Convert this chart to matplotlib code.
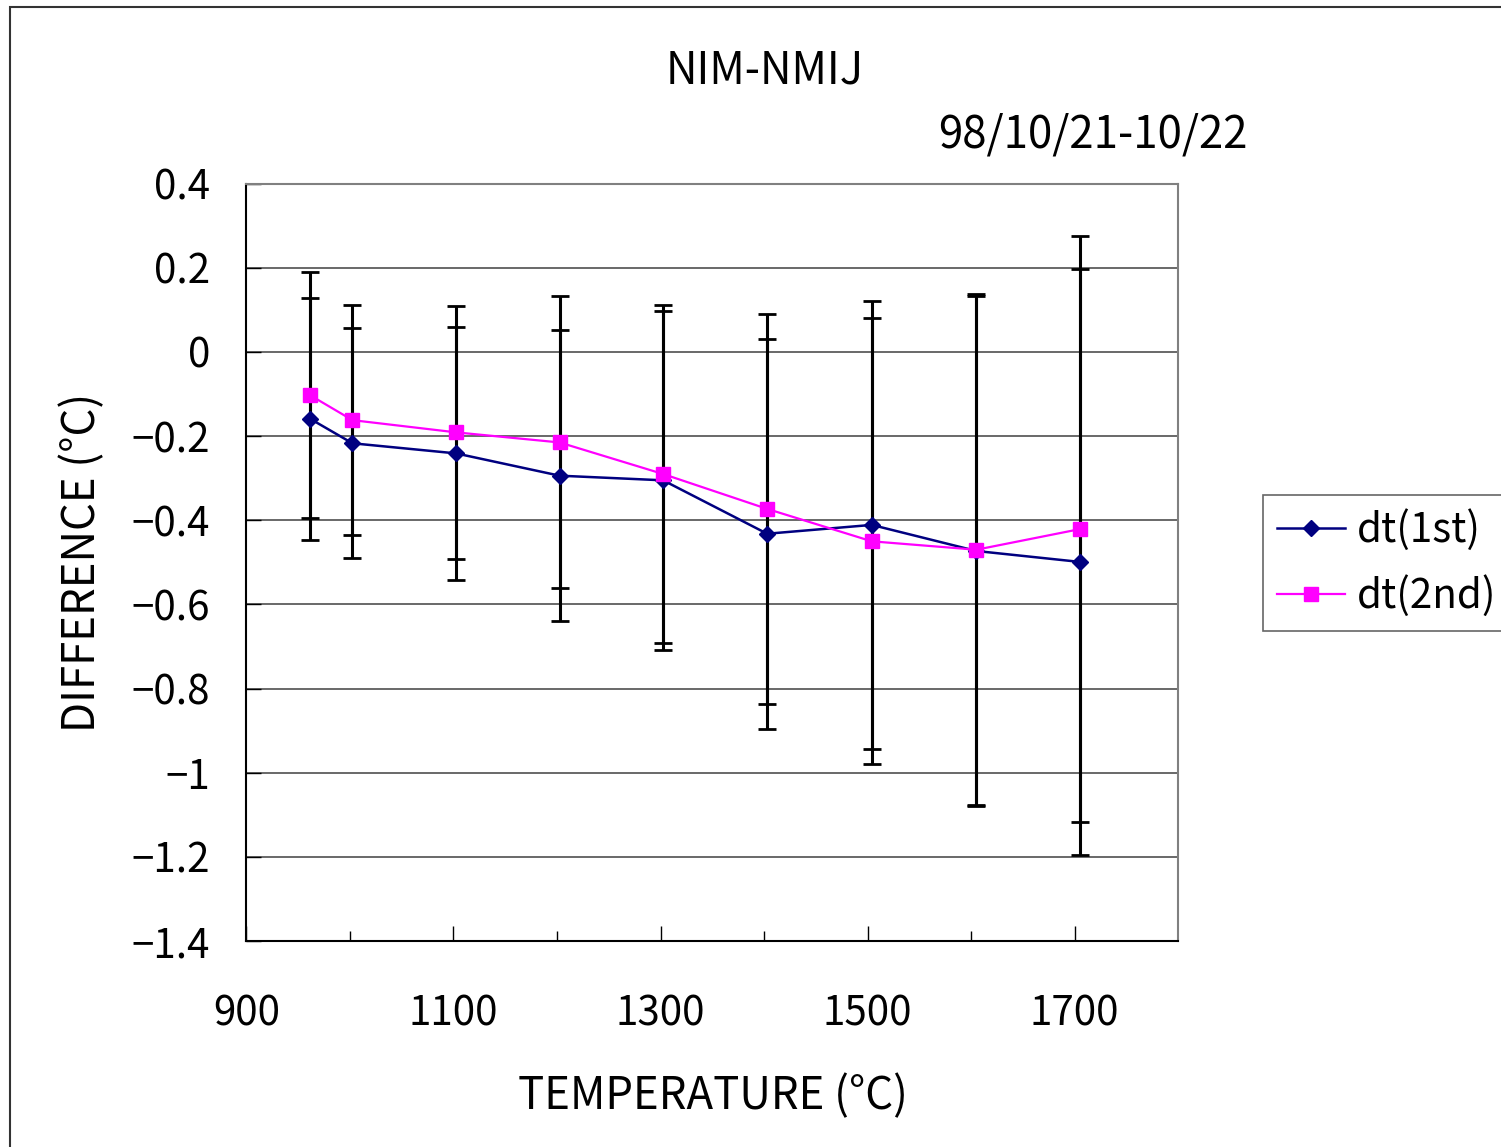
import matplotlib
matplotlib.use("Agg")
import matplotlib.pyplot as plt
from matplotlib.patches import Rectangle
from matplotlib.ticker import FixedLocator, FuncFormatter
import numpy as np

plt.rcParams['font.family'] = ['Noto Sans CJK JP', 'DejaVu Sans']

# temperatures of the comparison points (deg C)
temps = [961.78, 1002.5, 1102.5, 1202.5, 1302.5, 1403, 1504, 1605, 1705]

# difference NIM-NMIJ, first and second run
dt_1st = [-0.159, -0.217, -0.241, -0.294, -0.305, -0.432, -0.411, -0.473, -0.499]
dt_2nd = [-0.103, -0.162, -0.191, -0.215, -0.290, -0.373, -0.450, -0.470, -0.421]

# expanded uncertainties
err_1st = [0.288, 0.273, 0.300, 0.346, 0.403, 0.464, 0.532, 0.607, 0.696]
err_2nd = [0.292, 0.273, 0.300, 0.347, 0.402, 0.464, 0.530, 0.607, 0.696]

xticks_major = [900, 1100, 1300, 1500, 1700]
xticks_minor = [1000, 1200, 1400, 1600]
yticks = [0.4, 0.2, 0, -0.2, -0.4, -0.6, -0.8, -1.0, -1.2, -1.4]

W, H = 1501, 1147
FS = 29      # tick labels / legend
FS_T = 31.5  # title and axis titles


def fx(px):
    return px / W


def fy(py):
    return 1 - py / H


fig = plt.figure(figsize=(W / 100, H / 100), dpi=100)

# outer chart frame
fig.patches.append(Rectangle((fx(10), fy(1200)), fx(1600), fy(7) - fy(1200),
                             transform=fig.transFigure, fill=False,
                             edgecolor='#333333', linewidth=1.5))

ax = fig.add_axes([fx(246.3), fy(941), fx(1178.3) - fx(246.3), fy(183.7) - fy(941)])

for yv in yticks[1:-1]:
    ax.axhline(yv, color='#404040', linewidth=1.1, zorder=1)

ax.errorbar(temps, dt_1st, yerr=err_1st, fmt='none', ecolor='black',
            elinewidth=2.2, capsize=6.8, capthick=2.0, zorder=2)
ax.errorbar(temps, dt_2nd, yerr=err_2nd, fmt='none', ecolor='black',
            elinewidth=2.2, capsize=6.8, capthick=2.0, zorder=2)

ax.plot(temps, dt_1st, color='#000080', linewidth=1.8, marker='D',
        markersize=8.5, label='dt(1st)', zorder=3)
ax.plot(temps, dt_2nd, color='#FF00FF', linewidth=1.6, marker='s',
        markersize=9.5, label='dt(2nd)', zorder=4)

ax.set_xlim(900, 1800)
ax.set_ylim(-1.4, 0.4)

ax.xaxis.set_major_locator(FixedLocator(xticks_major))
ax.xaxis.set_minor_locator(FixedLocator(xticks_minor))
ax.yaxis.set_major_locator(FixedLocator(yticks))
ax.yaxis.set_major_formatter(FuncFormatter(lambda v, p: ('%g' % round(v, 6)).replace('-', '\u2212')))

ax.tick_params(axis='both', which='major', direction='in', length=10.8, width=1.0,
               labelsize=FS, colors='black')
ax.tick_params(axis='x', which='minor', direction='in', length=7.2, width=1.0)
ax.tick_params(axis='x', which='major', pad=38)
ax.tick_params(axis='y', which='major', pad=26)

for s in ['left', 'bottom']:
    ax.spines[s].set_color('black')
    ax.spines[s].set_linewidth(1.5)
for s in ['top', 'right']:
    ax.spines[s].set_color('#808080')
    ax.spines[s].set_linewidth(1.5)

fig.text(fx(765), fy(84), 'NIM-NMIJ', ha='center', va='baseline', fontsize=FS_T)
fig.text(fx(1093), fy(148), '98/10/21-10/22', ha='center', va='baseline', fontsize=FS_T)
fig.text(fx(713), fy(1109), 'TEMPERATURE (°C)', ha='center', va='baseline', fontsize=FS_T)
fig.text(fx(82), fy(562), 'DIFFERENCE (°C)', ha='center', va='center',
         rotation=90, fontsize=FS_T)

leg = ax.legend(loc='upper left', bbox_to_anchor=(fx(1262.7), fy(495)),
                bbox_transform=fig.transFigure, borderaxespad=0, fontsize=FS,
                frameon=True, fancybox=False, numpoints=1, handlelength=1.7,
                handletextpad=0.3, borderpad=0.35, labelspacing=0.6)
leg.get_frame().set_edgecolor('#404040')
leg.get_frame().set_linewidth(1.2)

fig.savefig('out.png', dpi=100)
